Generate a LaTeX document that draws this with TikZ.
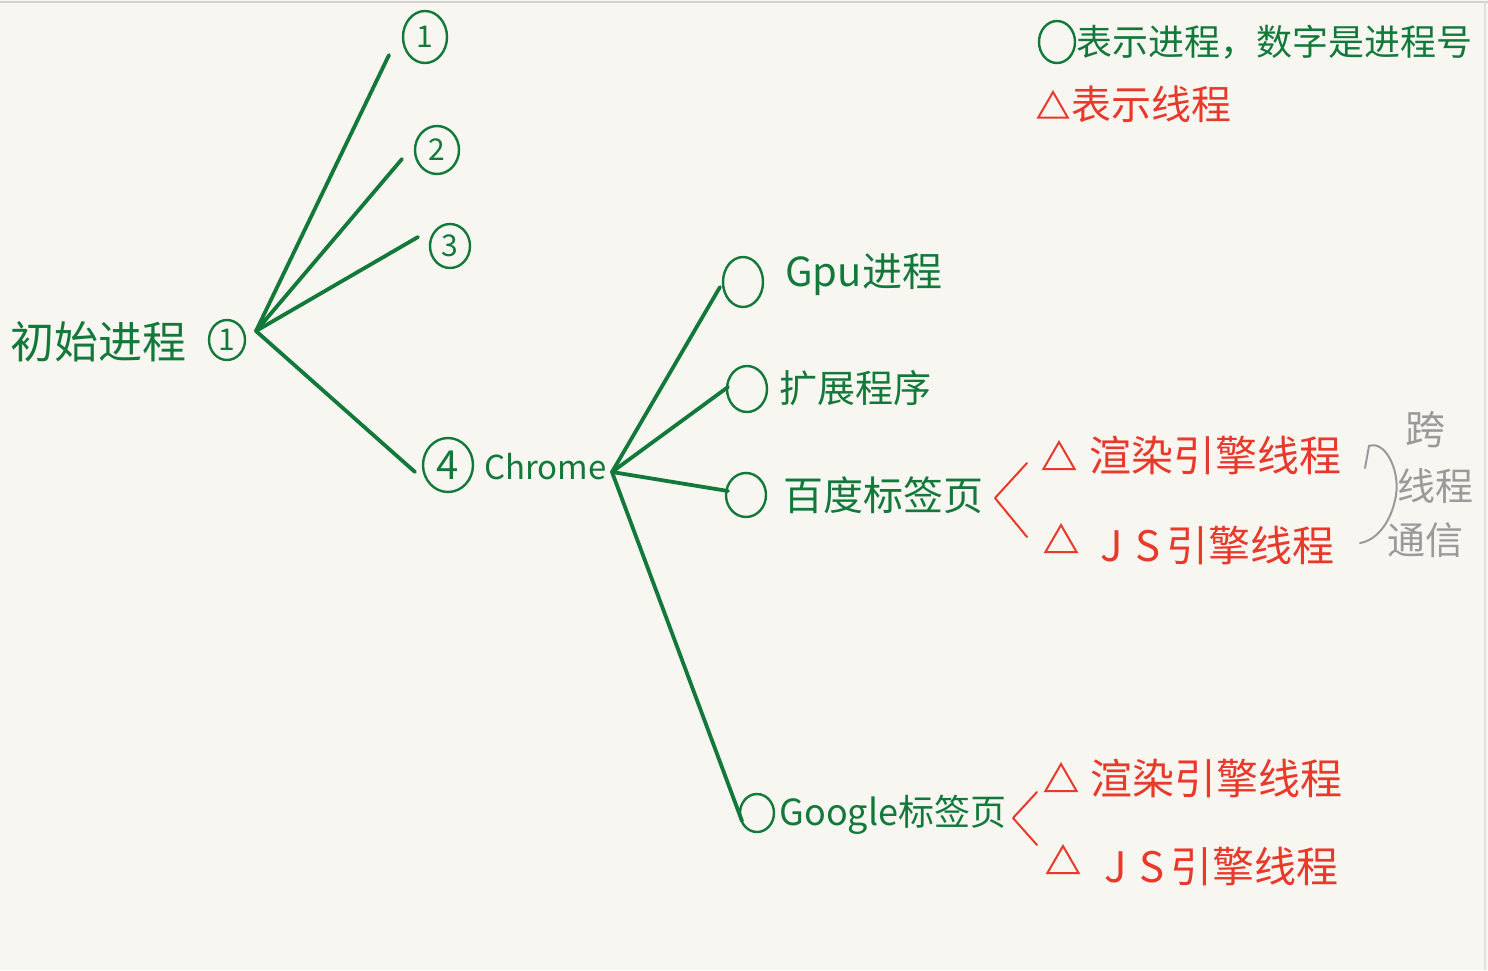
\documentclass[tikz,border=0pt]{standalone}
\usepackage{fontspec}
\setmainfont{Noto Sans CJK SC}
\usetikzlibrary{shapes.geometric}
\definecolor{paper}{HTML}{F8F6F1}
\definecolor{pgreen}{HTML}{12793B}
\definecolor{pred}{HTML}{E8392B}
\definecolor{pgray}{HTML}{9A9A9A}
\begin{document}
\begin{tikzpicture}[x=0.5pt,y=-0.5pt,
  conn/.style={draw=pgreen, line width=1.9pt, line cap=round},
  proc/.style={ellipse, draw=pgreen, line width=1.2pt, inner sep=0pt, text=pgreen,
               font=\fontsize{15}{15}\selectfont},
  thr/.style={regular polygon, regular polygon sides=3, draw=pred, line width=1pt,
              inner sep=0pt, minimum size=18pt},
  glbl/.style={anchor=west, inner sep=0pt, text=pgreen},
  rlbl/.style={anchor=west, inner sep=0pt, text=pred, font=\fontsize{21}{21}\selectfont},
  brk/.style={draw=pred, line width=1pt, line cap=round, line join=round},
  gtxt/.style={inner sep=0pt, text=pgray, font=\fontsize{19}{19}\selectfont}
]
\fill[paper] (0,0) rectangle (1488,970);
\useasboundingbox (0,0) rectangle (1488,970);
\draw[black!18, line width=1.2pt] (0,2) -- (1488,2);
\draw[black!12, line width=1pt] (1485,2) -- (1485,970);

% legend
\node[proc, minimum width=18pt, minimum height=21pt] (lgc) at (1057,42) {};
\node[glbl, font=\fontsize{18}{18}\selectfont] (lgt) at (1076,42) {表示进程，数字是进程号};
\node[thr, minimum size=17pt] (lgtri) at (1053,109) {};
\node[rlbl, font=\fontsize{20}{20}\selectfont] (lgr) at (1071,104) {表示线程};

% root
\node[glbl, font=\fontsize{22}{22}\selectfont] (root) at (10,342) {初始进程};
\node[proc, minimum width=18pt, minimum height=20pt] (p1r) at (227,340) {1};
\coordinate (h1) at (256,331);

% children of root
\node[proc, minimum width=22pt, minimum height=26pt] (c1) at (425,37) {1};
\node[proc, minimum width=22pt, minimum height=24pt] (c2) at (437,150) {2};
\node[proc, minimum width=20pt, minimum height=22pt] (c3) at (450,246) {3};
\node[proc, minimum width=25pt, minimum height=27pt, font=\fontsize{20}{20}\selectfont] (c4) at (448,465) {4};
\node[glbl, font=\fontsize{16.5}{16.5}\selectfont] (chrome) at (484,467) {Chrome};

\coordinate (e1) at (389,55);
\coordinate (e2) at (402,159);
\coordinate (e3) at (418,237);
\coordinate (e4) at (415,472);
\draw[conn] (h1) -- (e1);
\draw[conn] (h1) -- (e2);
\draw[conn] (h1) -- (e3);
\draw[conn] (h1) -- (e4);

% chrome children
\coordinate (h2) at (612,472);
\node[proc, minimum width=20pt, minimum height=25pt] (gpu) at (743,282) {};
\node[proc, minimum width=20pt, minimum height=23pt] (ext) at (747,389) {};
\node[proc, minimum width=20pt, minimum height=22pt] (bd) at (746,495) {};
\node[proc, minimum width=17pt, minimum height=19pt] (gg) at (757,813) {};

\coordinate (f1) at (720,287);
\coordinate (f2) at (728,387);
\coordinate (f3) at (728,491);
\coordinate (f4) at (742,821);
\draw[conn] (h2) -- (f1);
\draw[conn] (h2) -- (f2);
\draw[conn] (h2) -- (f3);
\draw[conn] (h2) -- (f4);

\node[glbl, font=\fontsize{20}{20}\selectfont] (gput) at (785,275) {Gpu进程};
\node[glbl, font=\fontsize{19}{19}\selectfont] (extt) at (779,388) {扩展程序};
\node[glbl, font=\fontsize{20}{20}\selectfont] (bdt) at (783,495) {百度标签页};
\node[glbl, font=\fontsize{18}{18}\selectfont] (ggt) at (779,815) {Google标签页};

% threads of Baidu tab
\coordinate (b1a) at (1027,463);
\coordinate (b1v) at (995,498);
\coordinate (b1b) at (1027,537);
\draw[brk] (b1a) -- (b1v) -- (b1b);
\node[thr] (t1) at (1059,460) {};
\node[rlbl] (t1t) at (1089,455) {渲染引擎线程};
\node[thr] (t2) at (1061,543) {};
\node[rlbl] (t2t) at (1100,545) {J\hspace{0.3em}S\hspace{0.15em}引擎线程};

% threads of Google tab
\coordinate (b2a) at (1037,792);
\coordinate (b2v) at (1013,818);
\coordinate (b2b) at (1037,845);
\draw[brk] (b2a) -- (b2v) -- (b2b);
\node[thr] (t3) at (1061,782) {};
\node[rlbl] (t3t) at (1090,778) {渲染引擎线程};
\node[thr] (t4) at (1063,864) {};
\node[rlbl] (t4t) at (1104,866) {J\hspace{0.3em}S\hspace{0.15em}引擎线程};

% cross-thread communication
\coordinate (ga) at (1365,468);
\coordinate (gb) at (1369,446);
\coordinate (gc) at (1360,543);
\draw[pgray, line width=1pt, line cap=round] (ga) -- (gb)
  .. controls (1385,440) and (1400,470) .. (1396,495)
  .. controls (1392,520) and (1378,540) .. (gc);
\node[gtxt, font=\fontsize{20}{20}\selectfont] (kua) at (1425,430) {跨};
\node[gtxt] (xc) at (1435,486) {线程};
\node[gtxt] (tx) at (1425,540) {通信};
\end{tikzpicture}
\end{document}
